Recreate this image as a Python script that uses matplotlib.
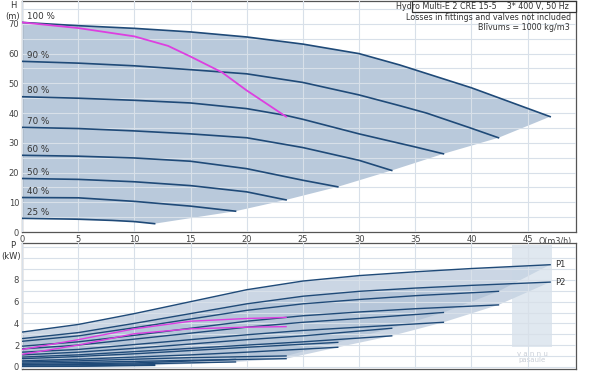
"""Pump curves: Hydro Multi-E 2 CRE 15-5 (head and power vs flow)
"""
import matplotlib as mpl
import matplotlib.pyplot as plt
from matplotlib.patches import Polygon, Rectangle

mpl.rcParams['font.family'] = 'DejaVu Sans'
mpl.rcParams['font.size'] = 6.

LINE = '#1f4a78'
SHADE = '#b9c9db'
PINK = '#dd3fe0'
GRID = '#d8e0e9'
TXT = '#333333'

# head curves H(Q) per speed
speeds = ['100 %', '90 %', '80 %', '70 %', '60 %', '50 %', '40 %', '25 %']
h_q = [
    [0, 5, 10, 15, 20, 25, 30, 33.6, 40, 47],
    [0, 5, 10, 15, 20, 25, 30, 33.6, 36, 39.9, 42.4],
    [0, 5, 10, 15, 20, 23.5, 25, 30, 35, 37.5],
    [0, 5, 10, 15, 20, 25, 30, 32.9],
    [0, 5, 10, 15, 20, 25, 28.1],
    [0, 5, 10, 15, 20, 23.5],
    [0, 5, 10, 15, 19],
    [0, 5, 8, 10, 11.8],
]
h_vals = [
    [70.5, 69.4, 68.5, 67.3, 65.6, 63.2, 60.0, 56.2, 48.5, 38.8],
    [57.4, 56.8, 55.9, 54.6, 53.2, 50.3, 46.1, 42.5, 40.0, 35.0, 31.7],
    [45.5, 45.0, 44.3, 43.4, 41.5, 39.2, 37.9, 33.0, 28.6, 26.3],
    [35.2, 34.8, 34.0, 33.0, 31.7, 28.4, 24.1, 20.7],
    [25.8, 25.5, 24.9, 23.8, 21.3, 17.4, 15.2],
    [18.0, 17.7, 16.9, 15.6, 13.5, 10.8],
    [11.6, 11.5, 10.3, 8.7, 7.0],
    [4.6, 4.3, 3.9, 3.5, 2.8],
]
# operating curve (pink)
op_q = [0, 5, 10, 13, 15, 17.8, 20, 23.5]
op_h = [70.5, 68.6, 65.8, 62.6, 59.0, 53.7, 47.6, 38.8]

# power curves P1 / P2 per speed
p_q = [
    [0, 5, 10, 15, 20, 25, 30, 35, 40, 47],
    [0, 5, 10, 15, 20, 25, 30, 35, 42.4],
    [0, 5, 10, 15, 20, 25, 30, 37.5],
    [0, 5, 10, 15, 20, 25, 32.9],
    [0, 5, 10, 15, 20, 28.1],
    [0, 5, 10, 15, 23.5],
    [0, 5, 10, 19],
    [0, 5, 11.8],
]
p1_vals = [
    [3.2, 3.9, 4.9, 6.0, 7.1, 7.9, 8.4, 8.75, 9.05, 9.4],
    [2.35, 2.85, 3.6, 4.4, 5.2, 5.8, 6.2, 6.55, 6.95],
    [1.65, 2.0, 2.55, 3.1, 3.65, 4.1, 4.45, 5.0],
    [1.1, 1.35, 1.7, 2.1, 2.5, 2.85, 3.55],
    [0.75, 0.95, 1.2, 1.5, 1.8, 2.25],
    [0.45, 0.55, 0.7, 0.85, 1.0],
    [0.22, 0.28, 0.36, 0.68],
    [0.06, 0.08, 0.2],
]
p2_vals = [
    [2.6, 3.15, 4.0, 4.9, 5.8, 6.5, 6.95, 7.25, 7.5, 7.8],
    [1.9, 2.3, 2.9, 3.55, 4.2, 4.7, 5.05, 5.35, 5.7],
    [1.35, 1.6, 2.05, 2.5, 2.95, 3.35, 3.65, 4.1],
    [0.9, 1.1, 1.4, 1.7, 2.0, 2.3, 2.85],
    [0.55, 0.7, 0.9, 1.1, 1.35, 1.8],
    [0.33, 0.4, 0.5, 0.6, 0.75],
    [0.17, 0.2, 0.26, 0.45],
    [0.04, 0.05, 0.13],
]
op_p1 = [1.6, 2.5, 3.5, 4.2, 4.45, 4.55]
op_p2 = [1.15, 2.0, 3.05, 3.5, 3.65, 3.7]
op_pq = [0, 5, 10, 15, 20, 23.5]

x_ticks = [0, 5, 10, 15, 20, 25, 30, 35, 40, 45]
h_ticks = [0, 10, 20, 30, 40, 50, 60, 70]
p_ticks = [0, 2, 4, 6, 8]


def style_axes(ax, ylim, ygrid):
    ax.set_xlim(0, 49.3)
    ax.set_ylim(*ylim)
    ax.set_xticks(x_ticks)
    ax.set_yticks(ygrid, minor=True)
    ax.grid(True, which='both', color=GRID, lw=0.8)
    ax.set_axisbelow(False)
    ax.tick_params(which='both', length=0, labelsize=6, colors='#444444', pad=2)
    for s in ax.spines.values():
        s.set_color('#555555')
        s.set_linewidth(0.9)


def shade_region(top_q, top_v, curves_q, curves_v):
    # upper curve, then the curve ends, then back along the lowest curve
    pts = list(zip(top_q, top_v))
    for cq, cv in zip(curves_q[1:], curves_v[1:]):
        pts.append((cq[-1], cv[-1]))
    pts += list(zip(curves_q[-1][::-1], curves_v[-1][::-1]))
    return pts


def main():
    fig = plt.figure(figsize=(6.0, 3.71), dpi=100)
    ax1 = fig.add_axes([22 / 600, 1 - 232 / 371, 554 / 600, 231 / 371])
    ax2 = fig.add_axes([22 / 600, 1 - 369 / 371, 554 / 600, 126 / 371])

    # ---- head chart
    style_axes(ax1, (0, 77.7), [v for v in range(0, 78, 5)])
    ax1.set_yticks(h_ticks)
    ax1.set_xticklabels([str(t) for t in x_ticks])
    ax1.add_patch(Polygon(shade_region(h_q[0], h_vals[0], h_q, h_vals),
                          closed=True, fc=SHADE, ec='none', zorder=1))
    for q, h, lab in zip(h_q, h_vals, speeds):
        ax1.plot(q, h, color=LINE, lw=1.2, zorder=3)
        ax1.text(0.45, h[0] + 0.5, lab, fontsize=6.3, color=TXT, va='bottom', zorder=4)
    ax1.plot(op_q, op_h, color=PINK, lw=1.3, zorder=4)

    ax1.text(0.962, -0.022, 'Q(m3/h)', transform=ax1.transAxes, ha='center',
             va='top', fontsize=5.8, color='#444444')
    fig.text(13 / 600, 1 - 5 / 371, 'H', ha='center', va='center', fontsize=6, color=TXT)
    fig.text(13 / 600, 1 - 16 / 371, '(m)', ha='center', va='center', fontsize=6, color=TXT)

    ax1.add_patch(Rectangle((0.704, 0.953), 0.296, 0.047, transform=ax1.transAxes,
                            fc='white', ec='#333333', lw=0.9, zorder=5, clip_on=False))
    ax1.text(0.988, 0.976, 'Hydro Multi-E 2 CRE 15-5    3* 400 V, 50 Hz',
             transform=ax1.transAxes, ha='right', va='center', fontsize=5.8,
             color=TXT, zorder=6)
    ax1.text(0.992, 0.927, 'Losses in fittings and valves not included',
             transform=ax1.transAxes, ha='right', va='center', fontsize=5.8,
             color=TXT, zorder=6)
    ax1.text(0.988, 0.884, 'Blīvums = 1000 kg/m3',
             transform=ax1.transAxes, ha='right', va='center', fontsize=5.8,
             color=TXT, zorder=6)

    # ---- power chart
    style_axes(ax2, (-0.2, 11.4), list(range(0, 12)))
    ax2.set_yticks(p_ticks)
    ax2.set_xticklabels([])
    for vals in (p1_vals, p2_vals):
        ax2.add_patch(Polygon(shade_region(p_q[0], vals[0], p_q, vals),
                              closed=True, fc='#a9bcd2', ec='none', alpha=0.6, zorder=1))
    for q, v1, v2 in zip(p_q, p1_vals, p2_vals):
        ax2.plot(q, v1, color=LINE, lw=1.0, zorder=3)
        ax2.plot(q, v2, color=LINE, lw=1.0, zorder=3)
    ax2.plot(op_pq, op_p1, color=PINK, lw=1.0, zorder=4)
    ax2.plot(op_pq, op_p2, color=PINK, lw=1.0, zorder=4)

    ax2.text(47.4, p1_vals[0][-1], 'P1', fontsize=6, color=TXT, va='center')
    ax2.text(47.4, p2_vals[0][-1], 'P2', fontsize=6, color=TXT, va='center')
    fig.text(13 / 600, 1 - 245 / 371, 'P', ha='center', va='center', fontsize=6, color=TXT)
    fig.text(11 / 600, 1 - 257 / 371, '(kW)', ha='center', va='center', fontsize=6, color=TXT)

    # watermark
    ax2.add_patch(Rectangle((43.6, 1.8), 3.6, 9.4, fc='#c8d6e4', ec='none',
                            alpha=0.55, zorder=2))
    ax2.text(45.4, 1.2, 'v a n n u', ha='center', va='center', fontsize=5,
             color='#c9ced6', zorder=2)
    ax2.text(45.4, 0.6, 'pasaule', ha='center', va='center', fontsize=5,
             color='#c9ced6', zorder=2)

    plt.savefig('out.png', dpi=100)
    plt.close()


if __name__ == '__main__':
    main()
